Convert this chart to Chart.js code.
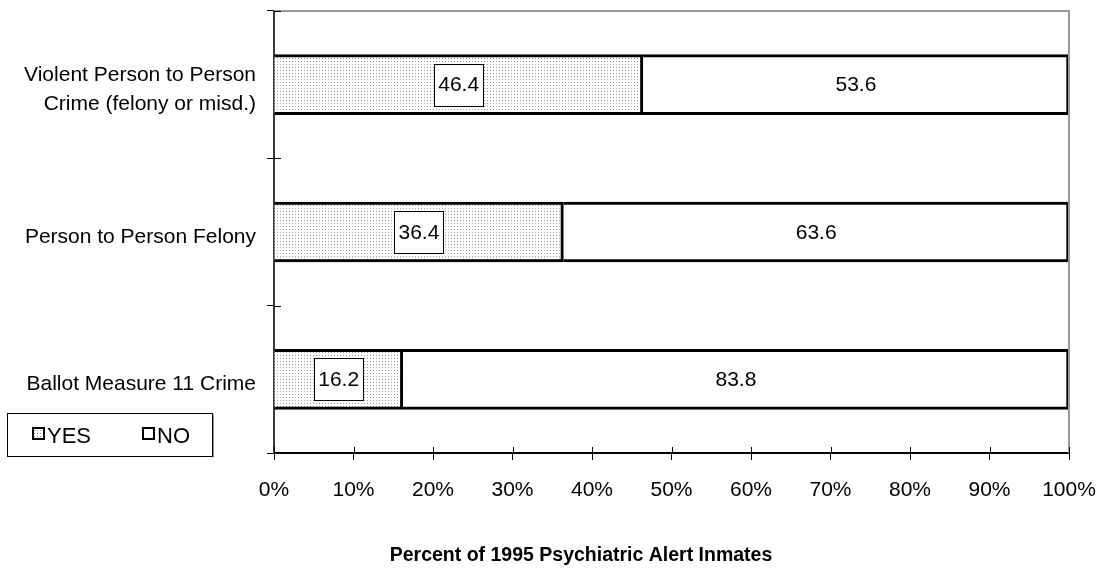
<!DOCTYPE html>
<html>
<head>
<meta charset="utf-8">
<script src="https://cdn.jsdelivr.net/npm/chart.js@4/dist/chart.umd.min.js"></script>
<style>
  html, body { margin: 0; padding: 0; background: #fff; }
  #wrap { width: 1101px; height: 569px; position: relative; }
  canvas { display: block; }
</style>
</head>
<body>
<div id="wrap"><canvas id="c" width="1101" height="569"></canvas></div>
<script>
// Categories (top to bottom) and the two stacked series, in percent
const categories = [
  ['Violent Person to Person', 'Crime (felony or misd.)'],
  'Person to Person Felony',
  'Ballot Measure 11 Crime'
];
const seriesNames = ['YES', 'NO'];
const yesValues = [46.4, 36.4, 16.2];
const noValues = [53.6, 63.6, 83.8];
const xTickValues = [0, 10, 20, 30, 40, 50, 60, 70, 80, 90, 100];
const xAxisTitle = 'Percent of 1995 Psychiatric Alert Inmates';

const FONT = '"Liberation Sans", Arial, Helvetica, sans-serif';
const canvas = document.getElementById('c');
const ctx = canvas.getContext('2d');

// Fine grey dot fill for the YES segments
function dotPattern() {
  const t = document.createElement('canvas');
  t.width = 3; t.height = 3;
  const g = t.getContext('2d');
  g.fillStyle = '#ffffff';
  g.fillRect(0, 0, 3, 3);
  g.fillStyle = '#9a9a9a';
  g.fillRect(1, 1, 1, 1);
  return ctx.createPattern(t, 'repeat');
}
const dots = dotPattern();

// Keep the plot rectangle fixed: no extra room for overhanging labels
function noScalePadding(s) {
  s.paddingTop = 0; s.paddingBottom = 0; s.paddingLeft = 0; s.paddingRight = 0;
}

// Value labels: boxed for YES, plain for NO, centred in each segment
const segmentLabels = {
  id: 'segmentLabels',
  afterDatasetsDraw(chart) {
    const c = chart.ctx;
    c.save();
    c.font = '21px ' + FONT;
    c.textAlign = 'center';
    c.textBaseline = 'middle';
    chart.data.datasets.forEach((ds, di) => {
      const meta = chart.getDatasetMeta(di);
      meta.data.forEach((el, i) => {
        const txt = ds.data[i].toFixed(1);
        const cx = (el.x + el.base) / 2;
        const cy = el.y;
        if (di === 0) {
          const w = Math.round(c.measureText(txt).width + 8);
          const h = 42;
          const lx = Math.round(cx - w / 2), ty = Math.round(cy - h / 2);
          c.fillStyle = '#fff';
          c.fillRect(lx, ty, w, h);
          c.strokeStyle = '#000';
          c.lineWidth = 1;
          c.strokeRect(lx + 0.5, ty + 0.5, w, h);
        }
        c.fillStyle = '#000';
        c.fillText(txt, cx, cy + 1);
      });
    });
    c.restore();
  }
};

// Plot frame (grey top/right), inward tick stubs, axis caption and the boxed legend
const frameAndLegend = {
  id: 'frameAndLegend',
  afterDraw(chart) {
    const c = chart.ctx;
    const a = chart.chartArea;
    const xs = chart.scales.x;
    const ys = chart.scales.y;
    c.save();
    // grey top and right edges
    c.strokeStyle = '#9a9a9a';
    c.lineWidth = 2;
    c.beginPath();
    c.moveTo(a.left, a.top);
    c.lineTo(a.right, a.top);
    c.lineTo(a.right, a.bottom);
    c.stroke();

    // tick stubs reaching into the plot
    c.strokeStyle = '#000';
    c.lineWidth = 1;
    c.beginPath();
    xs.ticks.forEach(t => {
      const px = Math.round(xs.getPixelForValue(t.value)) + 0.5;
      c.moveTo(px, a.bottom);
      c.lineTo(px, a.bottom - 6);
    });
    const n = ys.ticks.length;
    const bounds = [a.top];
    for (let i = 0; i < n - 1; i++) {
      bounds.push((ys.getPixelForTick(i) + ys.getPixelForTick(i + 1)) / 2);
    }
    bounds.push(a.bottom);
    bounds.forEach(py => {
      const p = Math.round(py) + 0.5;
      c.moveTo(a.left, p);
      c.lineTo(a.left + 7, p);
    });
    c.stroke();

    // axis caption
    c.fillStyle = '#000';
    c.font = 'bold 19.5px ' + FONT;
    c.textAlign = 'center';
    c.textBaseline = 'middle';
    c.fillText(xAxisTitle, 581, 556);

    // legend box
    const bx = 7.5, by = 413.5, bw = 205, bh = 43;
    c.fillStyle = '#fff';
    c.fillRect(bx, by, bw, bh);
    c.strokeStyle = '#000';
    c.lineWidth = 1;
    c.strokeRect(bx, by, bw, bh);
    c.strokeStyle = '#9a9a9a';
    c.beginPath();
    c.moveTo(bx + bw + 1, by + 1);
    c.lineTo(bx + bw + 1, by + bh + 1);
    c.stroke();

    const items = [{ x: 33, tx: 47 }, { x: 143, tx: 157 }];
    c.font = '22px ' + FONT;
    c.textAlign = 'left';
    c.textBaseline = 'middle';
    chart.data.datasets.forEach((ds, i) => {
      const it = items[i];
      c.fillStyle = ds.backgroundColor;
      c.fillRect(it.x, 428, 11, 11);
      c.strokeStyle = '#000';
      c.lineWidth = 2;
      c.strokeRect(it.x, 428, 11, 11);
      c.fillStyle = '#000';
      c.fillText(ds.label, it.tx, 437);
    });
    c.restore();
  }
};

new Chart(canvas, {
  type: 'bar',
  data: {
    labels: categories,
    datasets: [
      {
        label: seriesNames[0],
        data: yesValues,
        backgroundColor: dots,
        borderColor: '#000',
        borderWidth: { top: 3, bottom: 3, left: 0, right: 3 },
        borderSkipped: false
      },
      {
        label: seriesNames[1],
        data: noValues,
        backgroundColor: '#ffffff',
        borderColor: '#000',
        borderWidth: { top: 3, bottom: 3, left: 0, right: 3 },
        borderSkipped: false
      }
    ]
  },
  options: {
    indexAxis: 'y',
    responsive: false,
    animation: false,
    devicePixelRatio: 1,
    datasets: { bar: { barThickness: 60 } },
    layout: { padding: { top: 11, right: 32, left: 0, bottom: 0 } },
    plugins: {
      legend: { display: false },
      tooltip: { enabled: false }
    },
    scales: {
      x: {
        type: 'linear',
        position: 'bottom',
        stacked: true,
        min: 0,
        max: 100,
        afterBuildTicks: s => { s.ticks = xTickValues.map(v => ({ value: v })); },
        afterFit: s => { s.height = 116; noScalePadding(s); },
        ticks: {
          callback: v => v + '%',
          color: '#000',
          font: { family: FONT, size: 21 },
          padding: 18,
          maxRotation: 0,
          autoSkip: false
        },
        grid: {
          drawOnChartArea: false,
          drawTicks: true,
          tickLength: 7,
          color: '#000',
          lineWidth: 1
        },
        border: { color: '#000', width: 2 },
        title: { display: false }
      },
      y: {
        type: 'category',
        stacked: true,
        offset: true,
        afterFit: s => { s.width = 274; noScalePadding(s); },
        ticks: {
          color: '#000',
          font: { family: FONT, size: 21, lineHeight: 1.35 },
          padding: 11,
          labelOffset: 5,
          autoSkip: false
        },
        grid: {
          offset: true,
          drawOnChartArea: false,
          drawTicks: true,
          tickLength: 7,
          color: '#000',
          lineWidth: 1
        },
        border: { color: '#3a3a3a', width: 2 }
      }
    }
  },
  plugins: [segmentLabels, frameAndLegend]
});
</script>
</body>
</html>
